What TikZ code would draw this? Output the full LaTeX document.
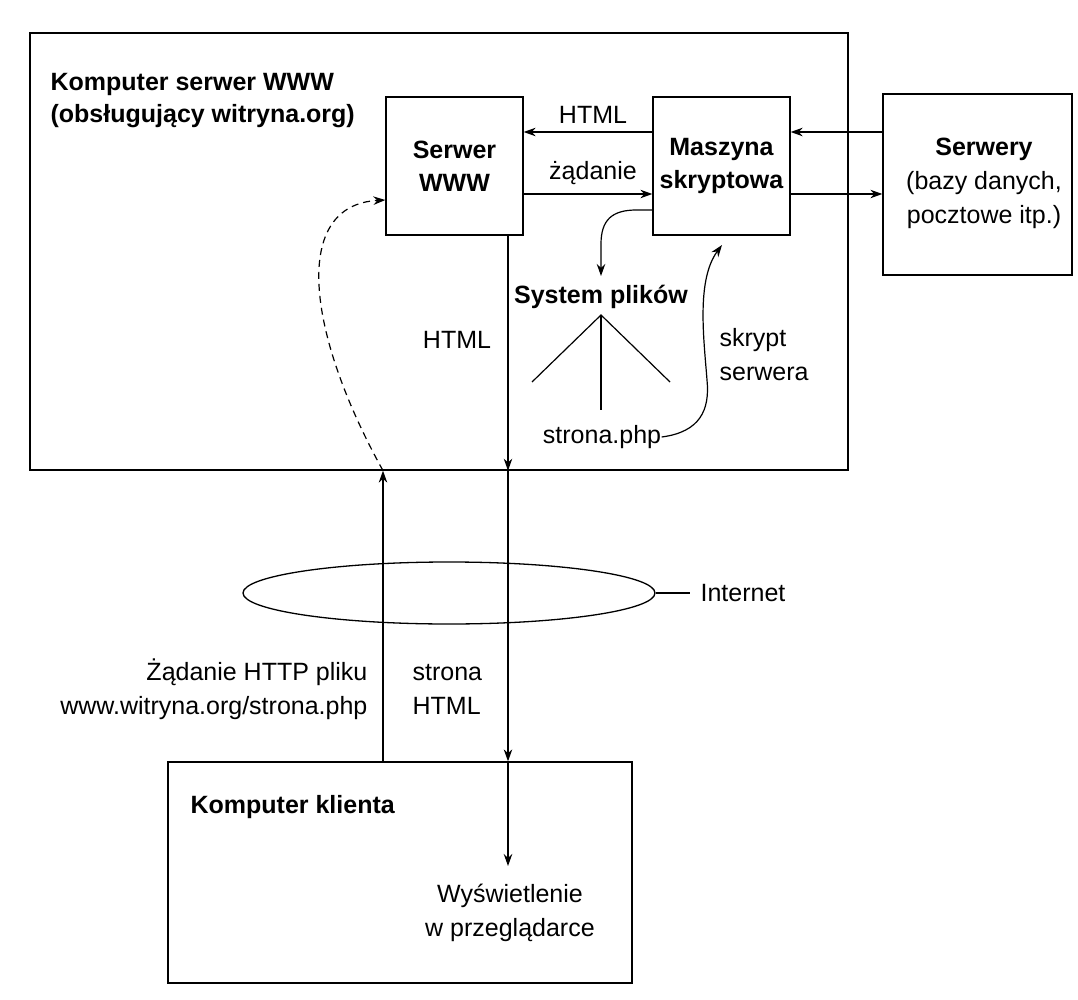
\documentclass[tikz,border=0pt]{standalone}
\usepackage{fontspec}
\setmainfont{Liberation Sans}
\usetikzlibrary{arrows.meta,shapes.geometric}
\begin{document}
\begin{tikzpicture}[x=1pt,y=-1pt,
  line width=1.2pt,
  box/.style={draw, line width=1.3pt, inner sep=0pt},
  lbl/.style={font=\fontsize{25}{34}\selectfont, inner sep=0pt},
  blbl/.style={font=\bfseries\fontsize{25}{32}\selectfont, inner sep=0pt},
  arr/.style={-{Stealth[length=12pt,width=8.5pt]}, line width=1.2pt}]
\useasboundingbox (0,0) rectangle (1078,1000);
\fill[white] (0,0) rectangle (1078,1000);

% boxes
\node[box, minimum width=818pt, minimum height=437pt] (srv) at (439,251.5) {};
\node[box, minimum width=137pt, minimum height=138pt, align=center, font=\bfseries\fontsize{25}{33}\selectfont] (www) at (454.5,166) {Serwer\\WWW};
\node[box, minimum width=137pt, minimum height=138pt, align=center, font=\bfseries\fontsize{25}{33}\selectfont] (mas) at (721.5,166) {Maszyna\\skryptowa};
\node[box, minimum width=189pt, minimum height=181pt] (svs) at (977.5,184.5) {};
\node[align=center, inner sep=0pt, font=\fontsize{25}{34}\selectfont] (svstxt) at (984,183) {\textbf{Serwery}\\(bazy danych,\\pocztowe itp.)};
\node[box, minimum width=464pt, minimum height=221pt] (cli) at (400,872.5) {};

% texts
\node[blbl, anchor=west, align=left] (title) at (50,101) {Komputer serwer WWW\\(obsługujący witryna.org)};
\node[blbl, anchor=west] (clitxt) at (190,807) {Komputer klienta};
\node[lbl, align=center] (wys) at (510,913) {Wyświetlenie\\w przeglądarce};
\node[lbl] (lhtml1) at (593,115) {HTML};
\node[lbl] (lzad) at (593,173) {żądanie};
\node[lbl] (lhtml2) at (457,340) {HTML};
\node[blbl, inner sep=3pt] (sysp) at (601,297) {System plików};
\node[lbl] (php) at (602,437) {strona.php};
\node[lbl, anchor=west, align=left] (skr) at (719,355) {skrypt\\serwera};
\node[lbl, anchor=east, align=right] (req) at (368,689) {Żądanie HTTP pliku\\www.witryna.org/strona.php};
\node[lbl, anchor=west, align=left] (resp) at (412,689) {strona\\HTML};

% internet
\node[draw, ellipse, line width=1.3pt, minimum width=412pt, minimum height=62pt, inner sep=0pt] (net) at (449,593) {};
\node[lbl, anchor=west] (inet) at (700,593) {Internet};
\draw (net.east) -- ([xshift=-10pt]inet.west);

% helper coordinates
\coordinate (yA) at (0,132);
\coordinate (yB) at (0,194);
\coordinate (yC) at (0,200);
\coordinate (xD) at (508,0);
\coordinate (xU) at (383,0);
\coordinate (tree) at (601,315);
\coordinate (tl) at (532,382);
\coordinate (tr) at (670,382);
\coordinate (tm) at (601,410);
\coordinate (wysTop) at (508,866);
\coordinate (fsTip) at (601,276);

% connectors between www, mas, servers
\draw[arr] (mas.west |- yA) -- (www.east |- yA);
\draw[arr] (www.east |- yB) -- (mas.west |- yB);
\draw[arr] (svs.west |- yA) -- (mas.east |- yA);
\draw[arr] (mas.east |- yB) -- (svs.west |- yB);

% file system
\draw[arr] ([yshift=-44pt]mas.west) -- ++(-16,0) .. controls (612,210) and (601,220) .. (601,244) -- (fsTip);
\draw (tl) -- (tree) -- (tr);
\draw (tree) -- (tm);
\draw[arr] (php.east) .. controls (700,432) and (710,410) .. (707,380)
  .. controls (704,340) and (696,280) .. (722,245);

% HTML response path
\draw[arr] (xD |- www.south) -- (xD |- srv.south);
\draw[arr] (xD |- srv.south) -- (xD |- cli.north);
\draw[arr] (xD |- cli.north) -- (wysTop);

% request path
\draw[arr] (xU |- cli.north) -- (xU |- srv.south);
\draw[arr, dashed, dash pattern=on 7pt off 5pt] (xU |- srv.south) .. controls (305,330) and (292,205) .. (www.west |- yC);
\end{tikzpicture}
\end{document}
